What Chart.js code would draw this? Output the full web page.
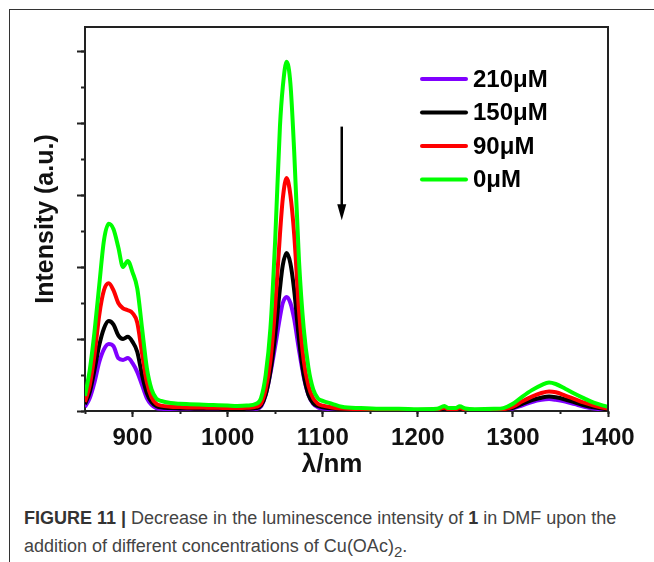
<!DOCTYPE html>
<html lang="en">
<head>
<meta charset="UTF-8">
<title>Figure 11</title>
<script src="https://cdn.jsdelivr.net/npm/chart.js"></script>
<style>
    body { margin: 0; background: #fff; width: 654px; height: 562px; overflow: hidden; position: relative; }
    .frame { position: absolute; left: 9px; top: 9px; width: 700px; height: 600px; border-left: 1px solid #333; border-top: 1px solid #333; }
    #grafico { position: absolute; left: 0; top: 0; }
    .legenda { position: absolute; left: 24px; top: 504px; font-family: "Liberation Sans", Arial, sans-serif; font-size: 18px; line-height: 28px; color: #444; }
    .legenda b { color: #333; }
</style>
</head>
<body>
<div class="frame"></div>
<canvas id="grafico" width="654" height="480"></canvas>
<div class="legenda">
    <b>FIGURE 11 |</b> Decrease in the luminescence intensity of <b>1</b> in DMF upon the<br>
    addition of different concentrations of Cu(OAc)<sub>2</sub>.
</div>

<script>
    // wavelengths (nm)
    var comprimentos = [850, 855, 860, 865, 870, 875, 880, 885, 890, 895, 900, 905, 910, 915, 920, 925, 930,
        940, 950, 960, 970, 980, 990, 1000, 1010, 1020, 1030,
        1035, 1040, 1045, 1050, 1055, 1058, 1062, 1066, 1070, 1075, 1080, 1085, 1090, 1095, 1100,
        1110, 1120, 1140, 1160, 1180, 1200, 1220, 1228, 1232, 1240, 1244, 1250, 1260, 1280, 1290,
        1300, 1310, 1320, 1330, 1338, 1345, 1355, 1365, 1375, 1385, 1395, 1400];

    var nomes = ['210μM', '150μM', '90μM', '0μM'];
    var cores = ['#8000ff', '#000000', '#ff0000', '#00ff00'];

    var int210 = [0.11, 0.36, 0.8, 1.36, 1.72, 1.86, 1.8, 1.47, 1.42, 1.47, 1.33, 1.08, 0.72, 0.36, 0.17, 0.08, 0.06,
        0.05, 0.04, 0.04, 0.04, 0.03, 0.03, 0.03, 0.03, 0.04, 0.06,
        0.12, 0.45, 1.05, 1.8, 2.6, 3.0, 3.17, 3.0, 2.55, 1.7, 0.95, 0.45, 0.2, 0.1, 0.07,
        0.05, 0.03, 0.02, 0.02, 0.02, 0.02, 0.02, 0.04, 0.03, 0.03, 0.04, 0.02, 0.02, 0.02, 0.03,
        0.07, 0.16, 0.25, 0.31, 0.33, 0.31, 0.26, 0.19, 0.12, 0.07, 0.04, 0.03];

    var int150 = [0.19, 0.53, 1.14, 1.83, 2.3, 2.5, 2.4, 2.1, 2.0, 2.06, 1.92, 1.64, 1.0, 0.5, 0.25, 0.14, 0.1,
        0.08, 0.07, 0.07, 0.06, 0.06, 0.06, 0.05, 0.05, 0.06, 0.08,
        0.15, 0.45, 1.1, 2.1, 3.4, 4.05, 4.39, 4.1, 3.35, 2.0, 1.0, 0.45, 0.22, 0.14, 0.1,
        0.07, 0.05, 0.04, 0.03, 0.03, 0.03, 0.03, 0.06, 0.04, 0.04, 0.06, 0.03, 0.03, 0.03, 0.04,
        0.09, 0.2, 0.3, 0.37, 0.4, 0.38, 0.32, 0.24, 0.16, 0.1, 0.06, 0.05];

    var int90 = [0.25, 0.72, 1.56, 2.67, 3.36, 3.55, 3.35, 3.0, 2.85, 2.8, 2.72, 2.45, 1.6, 0.8, 0.38, 0.2, 0.15,
        0.12, 0.11, 0.1, 0.1, 0.09, 0.09, 0.08, 0.08, 0.09, 0.12,
        0.2, 0.6, 1.4, 2.9, 4.9, 5.9, 6.47, 6.0, 4.9, 2.8, 1.4, 0.7, 0.35, 0.2, 0.15,
        0.1, 0.07, 0.05, 0.04, 0.04, 0.03, 0.04, 0.09, 0.05, 0.05, 0.08, 0.04, 0.03, 0.04, 0.05,
        0.12, 0.27, 0.4, 0.5, 0.54, 0.52, 0.43, 0.33, 0.23, 0.15, 0.09, 0.07];

    var int0 = [0.42, 1.14, 2.2, 3.5, 4.75, 5.2, 5.05, 4.55, 4.0, 4.17, 3.85, 3.4, 2.3, 1.2, 0.6, 0.35, 0.28,
        0.22, 0.2, 0.19, 0.18, 0.17, 0.16, 0.15, 0.14, 0.15, 0.2,
        0.35, 1.0, 2.3, 4.75, 7.9, 9.0, 9.7, 9.1, 7.2, 4.2, 2.3, 1.2, 0.6, 0.35, 0.28,
        0.2, 0.12, 0.08, 0.06, 0.06, 0.05, 0.06, 0.14, 0.08, 0.08, 0.13, 0.07, 0.05, 0.06, 0.08,
        0.2, 0.4, 0.58, 0.72, 0.79, 0.75, 0.62, 0.48, 0.35, 0.23, 0.15, 0.12];

    var series = [int210, int150, int90, int0];

    var xTicks = [900, 1000, 1100, 1200, 1300, 1400];

    function pontos(valores) {
        return comprimentos.map(function (x, i) { return { x: x, y: valores[i] }; });
    }

    var datasets = series.map(function (valores, i) {
        return {
            label: nomes[i],
            data: pontos(valores),
            borderColor: cores[i],
            backgroundColor: cores[i],
            borderWidth: 4,
            pointRadius: 0,
            cubicInterpolationMode: 'monotone',
            xAxisID: 'x',
            yAxisID: 'y',
            order: series.length - 1 - i   // green drawn on top
        };
    });

    // frame top/right
    var moldura = {
        id: 'moldura',
        afterDraw: function (chart) {
            var ctx = chart.ctx, a = chart.chartArea;
            ctx.save();
            ctx.strokeStyle = '#222';
            ctx.lineWidth = 2;
            ctx.beginPath();
            ctx.moveTo(a.left - 1, a.top);
            ctx.lineTo(a.right, a.top);
            ctx.lineTo(a.right, a.bottom + 1);
            ctx.stroke();
            ctx.restore();
        }
    };

    // down arrow at 1120 nm
    var seta = {
        id: 'seta',
        afterDraw: function (chart) {
            var ctx = chart.ctx;
            var x = chart.scales.x.getPixelForValue(1120);
            var y1 = chart.scales.y.getPixelForValue(7.9);
            var y2 = chart.scales.y.getPixelForValue(5.3);
            ctx.save();
            ctx.strokeStyle = '#000';
            ctx.fillStyle = '#000';
            ctx.lineWidth = 2.5;
            ctx.beginPath();
            ctx.moveTo(x, y1);
            ctx.lineTo(x, y2 - 12);
            ctx.stroke();
            ctx.beginPath();
            ctx.moveTo(x - 4.5, y2 - 16);
            ctx.lineTo(x + 4.5, y2 - 16);
            ctx.lineTo(x, y2);
            ctx.closePath();
            ctx.fill();
            ctx.restore();
        }
    };

    // legend inside the plot
    var legendaLinhas = {
        id: 'legendaLinhas',
        afterDraw: function (chart) {
            var ctx = chart.ctx, a = chart.chartArea;
            var x0 = a.left + 337, y0 = a.top + 52;
            ctx.save();
            ctx.font = 'bold 24px "Liberation Sans", Arial, sans-serif';
            ctx.textBaseline = 'middle';
            ctx.textAlign = 'left';
            ctx.lineCap = 'round';
            chart.data.datasets.forEach(function (ds, i) {
                var y = y0 + i * 33.5;
                ctx.strokeStyle = ds.borderColor;
                ctx.lineWidth = 4;
                ctx.beginPath();
                ctx.moveTo(x0, y);
                ctx.lineTo(x0 + 44, y);
                ctx.stroke();
                ctx.fillStyle = '#000';
                ctx.fillText(ds.label, x0 + 51, y + 1);
            });
            ctx.restore();
        }
    };

    var ctx = document.getElementById('grafico').getContext('2d');

    new Chart(ctx, {
        type: 'line',
        data: { datasets: datasets },
        plugins: [moldura, seta, legendaLinhas],
        options: {
            responsive: false,
            animation: false,
            devicePixelRatio: 1,
            layout: { padding: { top: 27, right: 46, left: 0, bottom: 0 } },
            plugins: {
                legend: { display: false },
                tooltip: { enabled: false }
            },
            scales: {
                x: {
                    type: 'linear',
                    position: 'bottom',
                    min: 850,
                    max: 1400,
                    weight: 1,
                    afterFit: function (s) { s.height = 69; },
                    afterBuildTicks: function (s) { s.ticks = xTicks.map(function (v) { return { value: v }; }); },
                    ticks: {
                        stepSize: 100,
                        autoSkip: false,
                        maxRotation: 0,
                        padding: 7,
                        color: '#111',
                        font: { family: '"Liberation Sans", Arial, sans-serif', size: 24, weight: 'bold' },
                        callback: function (v) { return String(v); }
                    },
                    grid: { drawOnChartArea: false, tickLength: 6, tickWidth: 2, tickColor: '#222' },
                    border: { color: '#222', width: 2 },
                    title: {
                        display: true,
                        text: 'λ/nm    ',
                        color: '#111',
                        padding: { top: 0, bottom: 0 },
                        font: { family: '"Liberation Sans", Arial, sans-serif', size: 26, weight: 'bold' }
                    }
                },
                x2: {
                    type: 'linear',
                    position: 'bottom',
                    min: 850,
                    max: 1400,
                    weight: 0,
                    afterFit: function (s) { s.height = 0; },
                    ticks: { display: false, stepSize: 50, maxTicksLimit: 20 },
                    grid: { drawOnChartArea: false, tickLength: 3, tickWidth: 2, tickColor: '#222' },
                    border: { display: false }
                },
                y: {
                    type: 'linear',
                    position: 'left',
                    min: 0,
                    max: 384 / 36,
                    weight: 1,
                    afterFit: function (s) { s.width = 85; },
                    ticks: { display: false, stepSize: 2, includeBounds: false, maxTicksLimit: 20 },
                    grid: { drawOnChartArea: false, tickLength: 8, tickWidth: 2, tickColor: '#222' },
                    border: { color: '#222', width: 2 },
                    title: {
                        display: true,
                        text: 'Intensity (a.u.)',
                        color: '#111',
                        padding: { top: 31, bottom: 0 },
                        font: { family: '"Liberation Sans", Arial, sans-serif', size: 25, weight: 'bold' }
                    }
                },
                y2: {
                    type: 'linear',
                    position: 'left',
                    min: 0,
                    max: 384 / 36,
                    weight: 0,
                    afterFit: function (s) { s.width = 0; },
                    ticks: { display: false, stepSize: 1, includeBounds: false, maxTicksLimit: 20 },
                    grid: { drawOnChartArea: false, tickLength: 4, tickWidth: 2, tickColor: '#222' },
                    border: { display: false }
                }
            }
        }
    });
</script>
</body>
</html>
